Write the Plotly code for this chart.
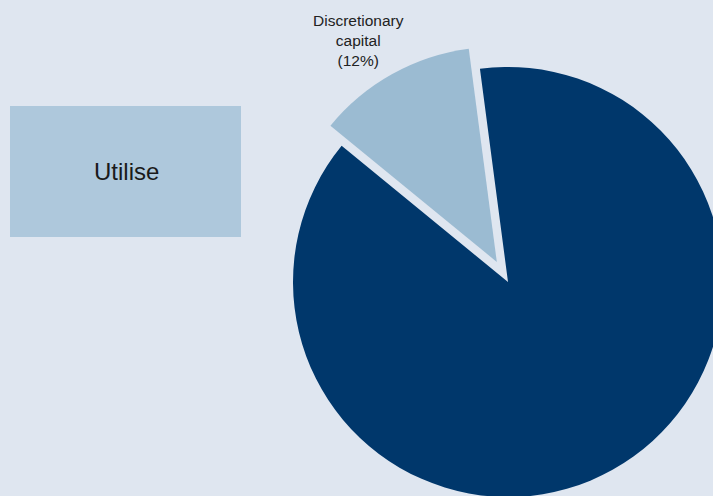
import plotly.graph_objects as go

# Capital split
labels = ["Utilised capital", "Discretionary capital"]
values = [88, 12]
pulls = [0, 0.107]
slice_colors = ["#00376b", "#9bbbd2"]

box_text = "Utilise"

# Canvas is a little larger than the visible window so the pie runs off the edges
W, H = 746, 520
BG = "#dfe6f0"
BOX = "#aec8dc"
FONT = "Liberation Sans, Arial, sans-serif"


def px(x):
    return x / W


def py(y):
    return 1 - y / H


fig = go.Figure(
    go.Pie(
        labels=labels,
        values=values,
        pull=pulls,
        sort=False,
        direction="clockwise",
        rotation=-7.5,
        marker=dict(colors=slice_colors, line=dict(width=0)),
        textinfo="none",
        hoverinfo="label+percent",
        showlegend=False,
        domain=dict(x=[270 / W, 1], y=[0, 476 / H]),
    )
)

# Outside label for the discretionary slice
disc = labels.index("Discretionary capital")
label_text = "<br>".join(labels[disc].split() + [f"({values[disc]}%)"])
fig.add_annotation(
    x=px(358), y=py(41), xref="paper", yref="paper",
    text=label_text, showarrow=False, xanchor="center", yanchor="middle",
    align="center", borderpad=0,
    font=dict(family=FONT, size=15.5, color="#222222"),
)

# Boxed caption on the left
fig.add_shape(
    type="rect", xref="paper", yref="paper",
    x0=px(10), x1=px(241), y0=py(237), y1=py(106),
    fillcolor=BOX, line=dict(width=0), layer="below",
)
fig.add_annotation(
    x=px(126), y=py(172), xref="paper", yref="paper",
    text=box_text, showarrow=False, xanchor="center", yanchor="middle",
    font=dict(family=FONT, size=24, color="#1a1a1a"),
)

fig.update_layout(
    width=W, height=H,
    margin=dict(l=0, r=0, t=0, b=0),
    paper_bgcolor=BG, plot_bgcolor=BG,
)

fig.write_html("out.html")
